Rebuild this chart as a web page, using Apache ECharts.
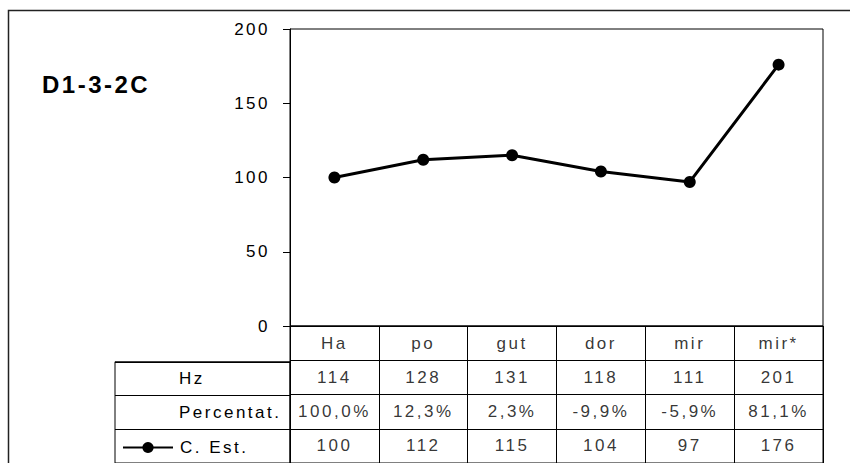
<!DOCTYPE html>
<html>
<head>
<meta charset="utf-8">
<script src="https://cdn.jsdelivr.net/npm/echarts@6/dist/echarts.min.js"></script>
<style>
  html, body { margin: 0; padding: 0; background: #fff; }
  #chart { width: 850px; height: 463px; }
  #chart text { letter-spacing: 2.5px; }
</style>
</head>
<body>
<div id="chart"></div>
<script>
const chartTitle = 'D1-3-2C';
const categories = ['Ha', 'po', 'gut', 'dor', 'mir', 'mir*'];
const hzValues = ['114', '128', '131', '118', '111', '201'];
const percentValues = ['100,0%', '12,3%', '2,3%', '-9,9%', '-5,9%', '81,1%'];
const cEstValues = [100, 112, 115, 104, 97, 176];
const rowNames = ['Hz', 'Percentat.', ''];
const seriesName = 'C. Est.';
const yTicks = { min: 0, max: 200, interval: 50 };

const FONT = "'Liberation Sans', Arial, sans-serif";
const chart = echarts.init(document.getElementById('chart'), null, { renderer: 'svg' });

const tableRows = [categories, hzValues, percentValues, cEstValues.map(String)];
const cellData = [];
tableRows.forEach((row, ri) => {
  row.forEach((txt, ci) => cellData.push({ name: txt, value: [ci, ri] }));
});

const blackLine = { color: '#000', width: 1 };

chart.setOption({
  animation: false,
  backgroundColor: '#fff',
  title: {
    text: chartTitle, left: 42, top: 72, padding: 0,
    textStyle: { fontFamily: FONT, fontSize: 24, fontWeight: 'bold', color: '#000' }
  },
  legend: {
    data: [seriesName], left: 122, top: 439, padding: 0,
    itemWidth: 50, itemHeight: 14, selectedMode: false,
    textStyle: { fontFamily: FONT, fontSize: 17, color: '#000', padding: [0, 0, 0, 2] }
  },
  graphic: [{
    type: 'rect', silent: true, z: -10,
    shape: { x: 8.5, y: 10.5, width: 900, height: 500 },
    style: { fill: 'none', stroke: '#222', lineWidth: 1.5 }
  }],
  grid: [
    { left: 290, top: 29, width: 533, height: 297, show: true, borderColor: '#000', borderWidth: 1, backgroundColor: 'transparent' },
    { left: 290, top: 326, width: 533, height: 143, show: true, borderColor: '#000', borderWidth: 1, backgroundColor: 'transparent' },
    { left: 115, top: 361.75, width: 175, height: 107.25, show: true, borderColor: '#000', borderWidth: 1, backgroundColor: 'transparent' }
  ],
  xAxis: [
    { gridIndex: 0, type: 'category', data: categories, boundaryGap: true,
      axisLine: { show: true, lineStyle: blackLine }, axisTick: { show: false }, axisLabel: { show: false }, splitLine: { show: false } },
    { gridIndex: 1, type: 'category', data: categories, boundaryGap: true,
      axisLine: { show: false }, axisTick: { show: false }, axisLabel: { show: false },
      splitLine: { show: true, interval: 0, lineStyle: blackLine } },
    { gridIndex: 2, type: 'category', data: [''], boundaryGap: true,
      axisLine: { show: false }, axisTick: { show: false }, axisLabel: { show: false }, splitLine: { show: false } }
  ],
  yAxis: [
    { gridIndex: 0, type: 'value', min: yTicks.min, max: yTicks.max, interval: yTicks.interval,
      axisLine: { show: true, lineStyle: blackLine },
      axisTick: { show: true, inside: false, length: 7, lineStyle: blackLine },
      axisLabel: { show: true, margin: 20, fontFamily: FONT, fontSize: 17, color: '#000' },
      splitLine: { show: false } },
    { gridIndex: 1, type: 'category', inverse: true, data: ['c', 'h', 'p', 'e'], boundaryGap: true,
      axisLine: { show: false }, axisTick: { show: false }, axisLabel: { show: false },
      splitLine: { show: true, interval: 0, lineStyle: blackLine } },
    { gridIndex: 2, type: 'category', inverse: true, data: rowNames, boundaryGap: true,
      axisLine: { show: false }, axisTick: { show: false },
      axisLabel: { show: true, inside: true, margin: 64, fontFamily: FONT, fontSize: 17, color: '#000' },
      splitLine: { show: true, interval: 0, lineStyle: blackLine } }
  ],
  series: [
    { name: seriesName, type: 'line', xAxisIndex: 0, yAxisIndex: 0, data: cEstValues,
      symbol: 'circle', symbolSize: 12, showSymbol: true,
      lineStyle: { color: '#000', width: 3 }, itemStyle: { color: '#000' }, z: 10 },
    { name: 'table', type: 'scatter', xAxisIndex: 1, yAxisIndex: 1, data: cellData,
      symbolSize: 1, itemStyle: { color: 'rgba(0,0,0,0)' }, silent: true,
      label: { show: true, position: 'inside', formatter: '{b}', fontFamily: FONT, fontSize: 17, color: '#000' } }
  ]
});
</script>
</body>
</html>
